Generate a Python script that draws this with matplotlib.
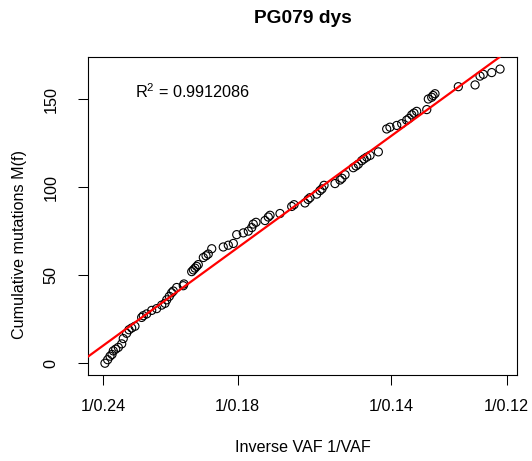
import matplotlib
matplotlib.use("Agg")
import matplotlib.pyplot as plt

# inverse VAF (1/f) and cumulative mutations M(f)
inv_vaf = [4.184, 4.212, 4.236, 4.257, 4.270, 4.295, 4.322, 4.357, 4.373, 4.408,
           4.432, 4.460, 4.494, 4.563, 4.580, 4.615, 4.667, 4.718, 4.770, 4.804,
           4.822, 4.849, 4.873, 4.890, 4.925, 4.993, 5.000, 5.080, 5.097, 5.114,
           5.131, 5.148, 5.200, 5.228, 5.251, 5.287, 5.406, 5.458, 5.510, 5.545,
           5.613, 5.665, 5.700, 5.716, 5.744, 5.837, 5.871, 5.889, 5.992, 6.113,
           6.137, 6.250, 6.282, 6.302, 6.371, 6.405, 6.426, 6.447, 6.560, 6.612,
           6.632, 6.664, 6.749, 6.777, 6.801, 6.836, 6.860, 6.888, 6.922, 7.008,
           7.094, 7.128, 7.198, 7.249, 7.301, 7.325, 7.353, 7.376, 7.404, 7.508,
           7.524, 7.559, 7.573, 7.593, 7.834, 8.007, 8.058, 8.092, 8.179, 8.265]
cum_mut = [0, 2, 4, 5, 7, 8, 9, 11, 14, 17,
           19, 20, 21, 26, 27, 28, 30, 31, 33, 34,
           36, 38, 40, 41, 43, 44, 45, 52, 53, 54,
           55, 56, 60, 61, 62, 65, 66, 67, 68, 73,
           74, 75, 77, 79, 80, 81, 83, 84, 85, 89,
           90, 91, 93, 94, 96, 98, 99, 101, 102, 104,
           105, 107, 111, 112, 113, 115, 116, 117, 118, 120,
           133, 134, 135, 136, 138, 139, 141, 142, 143, 144,
           150, 151, 152, 153, 157, 158, 163, 164, 165, 167]

fit_slope = 40.0
fit_intercept = -156.6
r_squared = "0.9912086"

vaf_ticks = [0.24, 0.18, 0.14, 0.12]
y_ticks = [0, 50, 100, 150]

plt.rcParams['font.family'] = ['Liberation Sans', 'DejaVu Sans']

fig = plt.figure(figsize=(5.32, 4.61), dpi=100)
W, H = 532, 461
ax = fig.add_axes([88.3 / W, 1 - 375 / H, (516.7 - 88.3) / W, (375 - 57.3) / H])

ax.scatter(inv_vaf, cum_mut, s=34, facecolors='none', edgecolors='black',
           linewidths=0.8, zorder=2)
ax.axline((0, fit_intercept), slope=fit_slope, color='#ff0000', lw=1.6, zorder=3)

ax.set_xlim(4.012, 8.437)
ax.set_ylim(-6.68, 173.68)

ax.set_xticks([1 / v for v in vaf_ticks])
ax.set_xticklabels(["1/" + str(v) for v in vaf_ticks])
ax.set_yticks(y_ticks)
ax.set_yticklabels([str(v) for v in y_ticks], rotation=90, va='center')

ax.tick_params(axis='x', length=7.2, width=0.75, pad=10, labelsize=11.7)
ax.tick_params(axis='y', length=7.2, width=0.75, pad=14, labelsize=11.7)
for sp in ax.spines.values():
    sp.set_linewidth(0.8)

ax.text(0.109, 0.873, r"$\mathregular{R^2}$ = " + r_squared,
        transform=ax.transAxes, fontsize=11.7, va='baseline', ha='left')

fig.text(302.5 / W, 1 - 23.3 / H, "PG079 dys", fontsize=13.8,
         fontweight='bold', ha='center', va='baseline')
fig.text(302.5 / W, 1 - 451.7 / H, "Inverse VAF 1/VAF", fontsize=11.6,
         ha='center', va='baseline')
fig.text(26.7 / W, 216.2 / H, "Cumulative mutations M(f)", fontsize=11.6,
         rotation=90, ha='right', va='center')

fig.savefig("out.png", dpi=100)
